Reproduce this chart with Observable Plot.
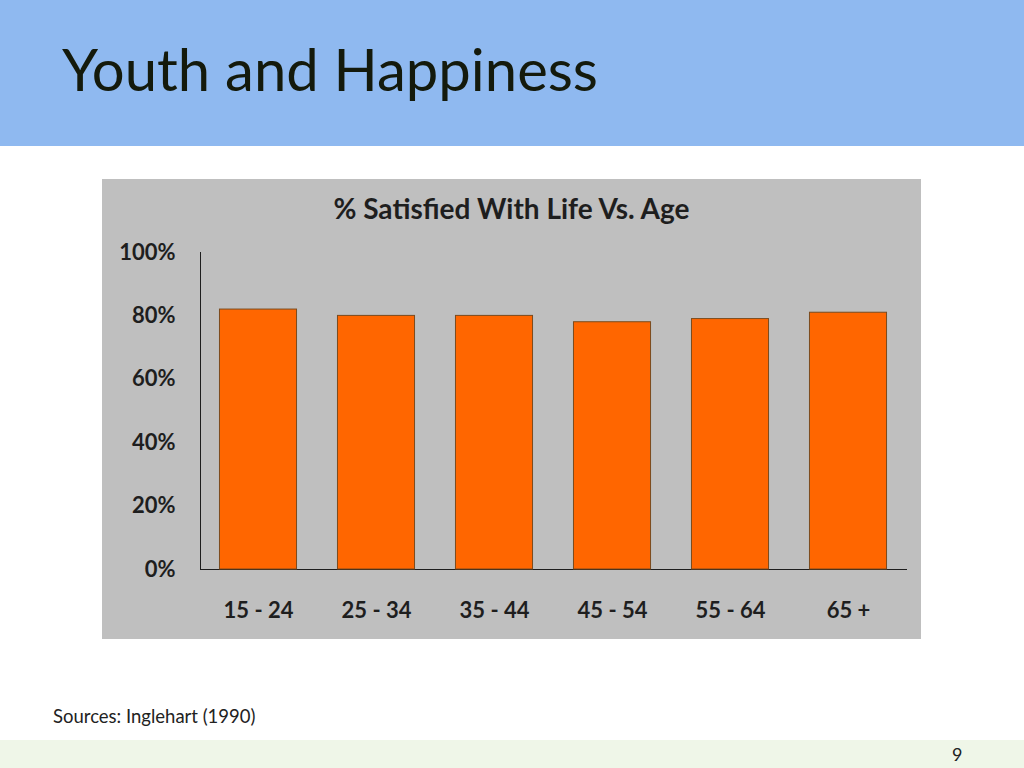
<!DOCTYPE html>
<html><head><meta charset="utf-8">
<script src="https://cdn.jsdelivr.net/npm/d3@7"></script>
<script src="https://cdn.jsdelivr.net/npm/@observablehq/plot@0.6"></script>
<style>
body{margin:0;background:#fff;}
#page{position:relative;width:1024px;height:768px;overflow:hidden;font-family:Lato,sans-serif;}
#header{position:absolute;left:0;top:0;width:1024px;height:146px;background:#8fb9f0;}
#title{position:absolute;left:62px;top:40px;font-size:58px;line-height:1;color:#141a0c;white-space:nowrap;}
#box{position:absolute;left:102px;top:179px;width:819px;height:460px;background:#bfbfbf;}
#ctitle{position:absolute;left:0;width:819px;top:15px;text-align:center;font-weight:bold;font-size:28px;line-height:1;color:#1e1e1e;white-space:nowrap;}
#chart{position:absolute;left:0;top:0;}
#src{position:absolute;left:53px;top:707px;font-size:18.5px;line-height:1;color:#222;white-space:nowrap;}
#footer{position:absolute;left:0;top:740px;width:1024px;height:28px;background:#eff6e8;}
#num{position:absolute;left:952px;top:745px;font-size:18px;line-height:1;color:#222;}
</style>
</head><body>
<div id="page">
  <div id="header"><div id="title">Youth and Happiness</div></div>
  <div id="box">
    <div id="chart"></div>
    <div id="ctitle">% Satisfied With Life Vs. Age</div>
  </div>
  <div id="src">Sources: Inglehart (1990)</div>
  <div id="footer"></div>
  <div id="num">9</div>
</div>
<script>
const ageGroups = ["15 - 24", "25 - 34", "35 - 44", "45 - 54", "55 - 64", "65 +"];
const satisfied = [82, 80, 80, 78, 79, 81];
const yTicks = [0, 20, 40, 60, 80, 100];

const data = ageGroups.map((age, i) => ({age, value: satisfied[i]}));

const chart = Plot.plot({
  width: 819,
  height: 460,
  marginLeft: 98,
  marginRight: 15,
  marginTop: 73,
  marginBottom: 70,
  style: {background: "transparent", fontFamily: "Lato, sans-serif", fontWeight: "bold", fontSize: "22px", color: "#1e1e1e"},
  x: {domain: ageGroups, paddingInner: 0.347, paddingOuter: 0.165, round: false, label: null, tickSize: 0, tickPadding: 33, line: true},
  y: {domain: [0, 100], ticks: yTicks, tickFormat: d => d + "%", label: null, tickSize: 0, tickPadding: 25, line: true},
  marks: [
    Plot.barY(data, {x: "age", y: "value", fill: "#ff6600", stroke: "#7a4b1e", strokeWidth: 1})
  ]
});
document.getElementById("chart").appendChild(chart);
</script>
</body></html>
